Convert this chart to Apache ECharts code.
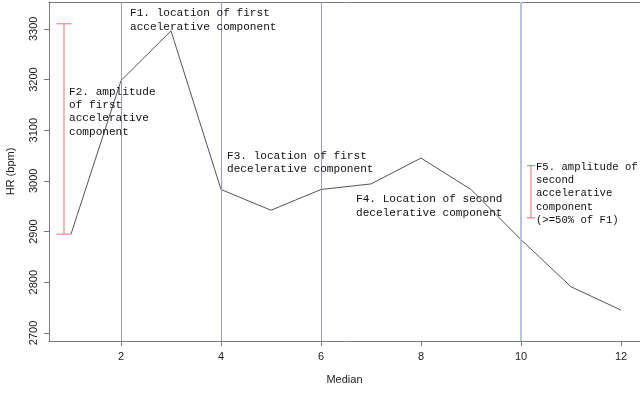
<!DOCTYPE html>
<html><head><meta charset="utf-8">
<script src="https://cdn.jsdelivr.net/npm/echarts@6/dist/echarts.min.js"></script>
<style>html,body{margin:0;padding:0;background:#fff}#c{width:640px;height:394px}</style>
</head><body><div id="c"></div>
<script>
const medianX = [1,2,3,4,5,6,7,8,9,10,11,12];
const hrValues = [2895,3198,3296,2983,2942,2983,2994,3045,2983,2884,2791,2745];
const xTicks = [2,4,6,8,10,12];
const yTicks = [2700,2800,2900,3000,3100,3200,3300];
const refLinesGray = [2,4,6];
const refLinesBlue = [10];
const errX = [0.86, 10.2];
const errLow = [2895, 2927];
const errHigh = [3310, 3030];
const notes = [
  "F1. location of first\naccelerative component",
  "F2. amplitude\nof first\naccelerative\ncomponent",
  "F3. location of first\ndecelerative component",
  "F4. Location of second\ndecelerative component",
  "F5. amplitude of\nsecond\naccelerative\ncomponent\n(>=50% of F1)"
];

const chart = echarts.init(document.getElementById('c'), null, {renderer:'canvas'});
const mono = '"Liberation Mono","Courier New",monospace';
const sans = '"Liberation Sans",Arial,sans-serif';
const notePos = [[130,6.6],[69,85],[227,149],[356,192.6],[536,160]];
const noteSize = [11.1, 11.1, 11.1, 11.1, 10.6];
const capHalf = [7.5, 4];

chart.setOption({
  animation:false,
  grid:{left:49,right:0,top:2,bottom:53,outerBoundsMode:'none',containLabel:false},
  xAxis:[{
    type:'value', min:0.56, max:12.38,
    axisLine:{lineStyle:{color:'#7a7a7a'}},
    axisTick:{customValues:xTicks, length:5, lineStyle:{color:'#7a7a7a'}},
    axisLabel:{customValues:xTicks, color:'#222', fontFamily:sans, fontSize:11, margin:10},
    splitLine:{show:false},
    name:'Median', nameLocation:'middle', nameGap:33,
    nameTextStyle:{color:'#222', fontFamily:sans, fontSize:11}
  },{
    type:'value', position:'top', min:0.56, max:12.38,
    axisLine:{show:true,lineStyle:{color:'#7a7a7a'}},
    axisTick:{show:false}, axisLabel:{show:false}, splitLine:{show:false}
  }],
  yAxis:{
    type:'value', min:2684, max:3353,
    axisLine:{show:true,lineStyle:{color:'#7a7a7a'}},
    axisTick:{show:true,customValues:yTicks, length:5, lineStyle:{color:'#7a7a7a'}},
    axisLabel:{customValues:yTicks, rotate:90, color:'#222', fontFamily:sans, fontSize:11, margin:10,
      formatter:v=>String(v)},
    splitLine:{show:false},
    name:'HR (bpm)', nameLocation:'middle', nameGap:33,
    nameTextStyle:{color:'#222', fontFamily:sans, fontSize:11}
  },
  series:[{
    type:'line',
    data: medianX.map((x,i)=>[x,hrValues[i]]),
    showSymbol:false,
    lineStyle:{color:'#555',width:1},
    z:3,
    markLine:{
      silent:true, symbol:['none','none'], label:{show:false},
      data: refLinesGray.map(v=>({xAxis:v, lineStyle:{color:'#9a9dba',width:1,type:'solid'}}))
        .concat(refLinesBlue.map(v=>({xAxis:v, lineStyle:{color:'#b8c0ec',width:2,type:'solid'}})))
    }
  },{
    type:'custom',
    data: errX.map((x,i)=>[x,errLow[i],errHigh[i]]),
    z:4,
    renderItem:function(params, api){
      const lo = api.coord([api.value(0), api.value(1)]);
      const hi = api.coord([api.value(0), api.value(2)]);
      const h = capHalf[params.dataIndex];
      const st = {stroke:'#f26a7a', lineWidth:1};
      return {type:'group', children:[
        {type:'line', shape:{x1:lo[0],y1:lo[1],x2:hi[0],y2:hi[1]}, style:st},
        {type:'line', shape:{x1:lo[0]-h,y1:lo[1],x2:lo[0]+h,y2:lo[1]}, style:st},
        {type:'line', shape:{x1:hi[0]-h,y1:hi[1],x2:hi[0]+h,y2:hi[1]}, style:st}
      ]};
    }
  }],
  graphic: notes.map((t,i)=>({
    type:'text', left:notePos[i][0], top:notePos[i][1], z:10,
    style:{text:t, font:noteSize[i]+'px '+mono, fill:'#111', lineHeight:13.4}
  }))
});
</script></body></html>
